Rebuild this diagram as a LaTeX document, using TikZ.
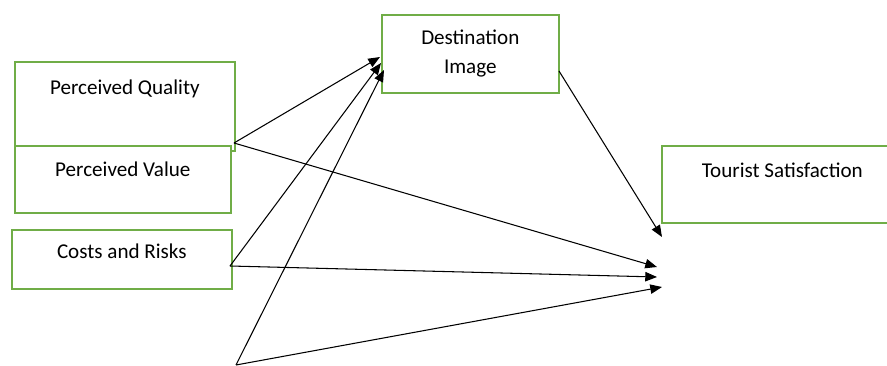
\documentclass[tikz,border=0pt]{standalone}
\usepackage{fontspec}
\setmainfont{Carlito}
\usepackage{xcolor}
\usetikzlibrary{arrows.meta,positioning,calc}

\definecolor{boxgreen}{RGB}{112,173,71}

\begin{document}
\begin{tikzpicture}[x=0.03cm, y=-0.03cm,
    box/.style={draw=boxgreen, fill=white, line width=1.4pt, inner sep=0pt, anchor=north west,
        font=\fontsize{18}{24.75}\selectfont},
    link/.style={draw=black, line width=0.9pt, -{Triangle[length=10pt,width=8pt]}}]
    \useasboundingbox (0,0) rectangle (887,366);

    % boxes
    \node[box, minimum width=187.8pt, text height=28.2pt, text depth=47.8pt] (pq) at (14,61) {Perceived Quality};
    \node[box, minimum width=184.4pt, text height=26.5pt, text depth=30.7pt] (pv) at (14,145) {Perceived Value};
    \node[box, minimum width=187.8pt, text height=24.8pt, text depth=25.6pt] (cr) at (11,229) {Costs and Risks};
    \node[box, minimum width=151.1pt, minimum height=66.6pt, align=center] (di) at (381,14) {Destination\\Image};
    \node[box, minimum width=205.7pt, text height=27.3pt, text depth=38.4pt] (ts) at (661,145) {Tourist Satisfaction};

    % end points
    \coordinate (pqout) at (234,143);
    \coordinate (crout) at (230,266);
    \coordinate (diout) at (559,71);
    \coordinate (src) at (236,365);
    \coordinate (dipq) at (380,57);
    \coordinate (dicr) at (381,63);
    \coordinate (disrc) at (384,70);
    \coordinate (tsdi) at (662,237);
    \coordinate (tspq) at (657,267);
    \coordinate (tscr) at (657,277);
    \coordinate (tssrc) at (662,287);

    % paths
    \draw[link] (pqout) -- (dipq);
    \draw[link] (pqout) -- (tspq);
    \draw[link] (crout) -- (dicr);
    \draw[link] (crout) -- (tscr);
    \draw[link] (src) -- (disrc);
    \draw[link] (src) -- (tssrc);
    \draw[link] (diout) -- (tsdi);
\end{tikzpicture}
\end{document}
